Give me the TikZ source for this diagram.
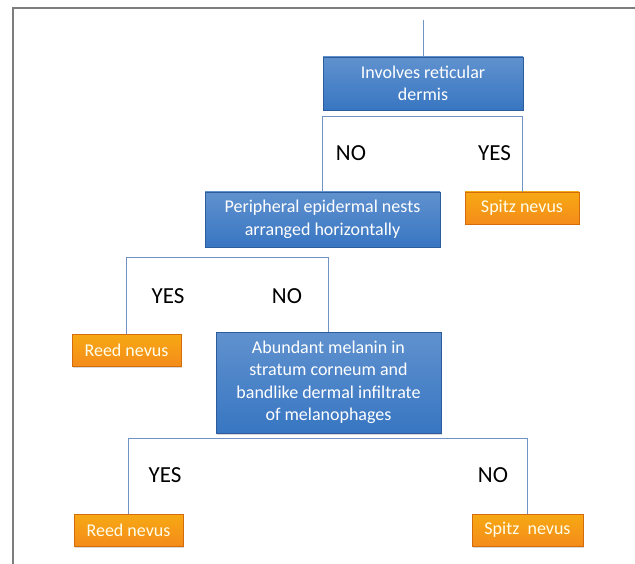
\documentclass[tikz,border=0pt]{standalone}
\usepackage{fontspec}
\setmainfont{Carlito}
\usetikzlibrary{shadows}
\definecolor{qblue}{RGB}{56,118,194}
\definecolor{qblueline}{RGB}{44,92,156}
\definecolor{lorange}{RGB}{244,140,26}
\definecolor{lorangeline}{RGB}{212,108,12}
\definecolor{linkblue}{RGB}{112,146,196}
\definecolor{framegray}{RGB}{125,125,125}
\tikzset{
	question/.style={draw=qblueline, top color=qblue!80!white, bottom color=qblue, text=white, align=center,
		font=\fontsize{18}{22.5}\selectfont, inner sep=0pt,
		drop shadow={opacity=0.3, shadow xshift=1pt, shadow yshift=-1.5pt}},
	leaf/.style={draw=lorangeline, top color=lorange!75!yellow, bottom color=lorange, text=white!92!yellow,
		font=\fontsize{18}{20}\selectfont, inner sep=0pt, minimum height=32pt,
		drop shadow={opacity=0.3, shadow xshift=1pt, shadow yshift=-1.5pt}},
	link/.style={draw=linkblue, line width=1pt},
	answer/.style={font=\fontsize{23}{26}\selectfont, text=black}
}
\begin{document}
\begin{tikzpicture}[x=1pt, y=-1pt]
	\useasboundingbox (0,0) rectangle (635,564);
	\draw[framegray, line width=1.5pt] (13,564) -- (13,8) -- (635,8);
	% questions
	\node[question, minimum width=200pt, minimum height=53pt] (root) at (423,83.5) {Involves reticular\\dermis};
	\node[question, minimum width=235pt, minimum height=55pt] (periph) at (322.5,219.5) {Peripheral epidermal nests\\arranged horizontally};
	\node[question, minimum width=225pt, minimum height=101pt] (melanin) at (328.5,382.5) {Abundant melanin in\\stratum corneum and\\bandlike dermal infiltrate\\of melanophages};
	% diagnoses
	\node[leaf, minimum width=114pt] (spitza) at (522,208) {Spitz nevus};
	\node[leaf, minimum width=109pt] (reeda) at (126.5,350) {Reed nevus};
	\node[leaf, minimum width=109pt] (reedb) at (128.5,530) {Reed nevus};
	\node[leaf, minimum width=111pt] (spitzb) at (527.5,530) {Spitz\ \ nevus};
	% branches
	\coordinate (top) at (423,20);
	\coordinate (bar1) at (0,117);
	\coordinate (bar2) at (0,258);
	\coordinate (bar3) at (0,438);
	\draw[link] (top) -- (root.north);
	\draw[link] (periph.north) -- (periph.north |- bar1) -- (spitza.north |- bar1) -- (spitza.north);
	\draw[link] (reeda.north) -- (reeda.north |- bar2) -- (melanin.north |- bar2) -- (melanin.north);
	\draw[link] (reedb.north) -- (reedb.north |- bar3) -- (spitzb.north |- bar3) -- (spitzb.north);
	% answers
	\node[answer] (no1) at (351,153) {NO};
	\node[answer] (yes1) at (494.5,153) {YES};
	\node[answer] (yes2) at (168,296) {YES};
	\node[answer] (no2) at (287,296) {NO};
	\node[answer] (yes3) at (165,475) {YES};
	\node[answer] (no3) at (493,475) {NO};
\end{tikzpicture}
\end{document}
